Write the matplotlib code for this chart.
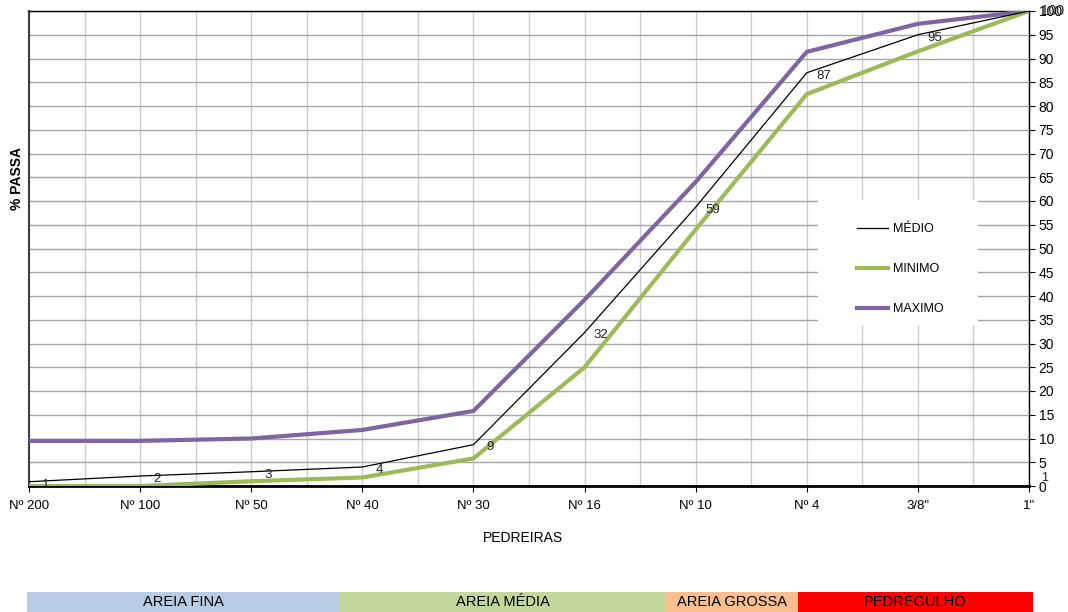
import matplotlib

matplotlib.use("Agg")

import matplotlib.pyplot as plt  # noqa: E402
from matplotlib.patches import Rectangle  # noqa: E402

plt.rcParams["font.family"] = ["Liberation Sans", "DejaVu Sans"]

_PURPLE = "#8064a2"
_GREEN = "#9bbb59"

sieves = ["Nº 200", "Nº 100", "Nº 50", "Nº 40", "Nº 30", "Nº 16", "Nº 10", "Nº 4", '3/8"', '1"']
medio = [0.9, 2.1, 3.0, 4.0, 8.7, 32.3, 58.7, 87.0, 95.0, 100]
minimo = [0.0, 0.0, 1.0, 1.8, 5.8, 25.0, 54.0, 82.5, 91.5, 100]
maximo = [9.5, 9.5, 10.0, 11.8, 15.8, 39.2, 64.0, 91.4, 97.3, 100]

bands = ["AREIA FINA", "AREIA MÉDIA", "AREIA GROSSA", "PEDREGULHO"]
band_colors = ["#b8cce4", "#c4d79b", "#fabf8f", "#ff0000"]
band_edges = [27, 339, 666, 798, 1033]  # pixel columns of the band strip

W, H = 1068, 612
fig = plt.figure(figsize=(W / 100, H / 100), dpi=100)
ax = fig.add_axes([29 / W, 1 - 486 / H, 1000 / W, 475 / H])

x = list(range(len(sieves)))
ax.plot(x, maximo, color=_PURPLE, lw=3, label="MAXIMO", zorder=3)
ax.plot(x, minimo, color=_GREEN, lw=3, label="MINIMO", zorder=3)
ax.plot(x, medio, color="black", lw=0.9, label="MÉDIO", zorder=4)

for xi, v in zip(x[:-1], medio[:-1]):
    ax.annotate(f"{v:.0f}", (xi, v), xytext=(12, -2), textcoords="offset points",
                ha="center", va="center", fontsize=9.5, color="#222222", zorder=5)

ax.set_xlim(0, len(sieves) - 1)
ax.set_ylim(0, 100)
ax.set_xticks(x)
ax.set_xticklabels(sieves, fontsize=9.5)
ax.set_xticks([i + 0.5 for i in x[:-1]], minor=True)
ax.set_yticks(range(0, 101, 5))
ax.yaxis.tick_right()
ax.tick_params(axis="y", labelsize=10, length=4, direction="out", pad=3)
ax.tick_params(axis="x", which="major", length=4, direction="out", pad=6)
ax.tick_params(axis="x", which="minor", length=0)

ax.grid(axis="y", color="#a6a6a6", lw=1.0, zorder=0)
ax.grid(axis="x", which="both", color="#cccccc", lw=1.0, zorder=0)

for side in ["top", "right"]:
    ax.spines[side].set_linewidth(1.0)
ax.spines["bottom"].set_linewidth(2.0)
ax.spines["left"].set_linewidth(1.5)
ax.spines["left"].set_color("#404040")

# duplicated labels drawn over the right axis
ax.annotate("100", (x[-1], 100), xytext=(17, 0), textcoords="offset points",
            ha="center", va="center", fontsize=10, color="#222222", clip_on=False)
ax.annotate("1", (x[-1], 1), xytext=(11, 2), textcoords="offset points",
            ha="center", va="center", fontsize=9, color="#222222", clip_on=False)

# white legend area covering the grid
ax.add_patch(Rectangle((818 / W, 1 - 325 / H), 160 / W, 125 / H,
                       transform=fig.transFigure, facecolor="white",
                       edgecolor="none", zorder=6))
handles, labels = ax.get_legend_handles_labels()
order = [2, 1, 0]
leg = fig.legend([handles[i] for i in order], [labels[i] for i in order],
                 loc="upper left", bbox_to_anchor=(857 / W, 1 - 223 / H),
                 frameon=False, fontsize=9, labelspacing=2.25, handlelength=2.5,
                 handletextpad=0.4, borderpad=0, borderaxespad=0)
leg.set_zorder(7)

fig.text(17 / W, 1 - 178 / H, "% PASSA", rotation=90, ha="center", va="center",
         fontsize=10, fontweight="bold")
fig.text(523 / W, 1 - 538 / H, "PEDREIRAS", ha="center", va="center", fontsize=10)

for name, col, x0, x1 in zip(bands, band_colors, band_edges[:-1], band_edges[1:]):
    fig.patches.append(Rectangle((x0 / W, 0), (x1 - x0) / W, 20 / H,
                                 transform=fig.transFigure, facecolor=col,
                                 edgecolor="none"))
    fig.text((x0 + x1) / 2 / W, 10 / H, name, ha="center", va="center", fontsize=10.5)

fig.savefig("out.png", dpi=100)
